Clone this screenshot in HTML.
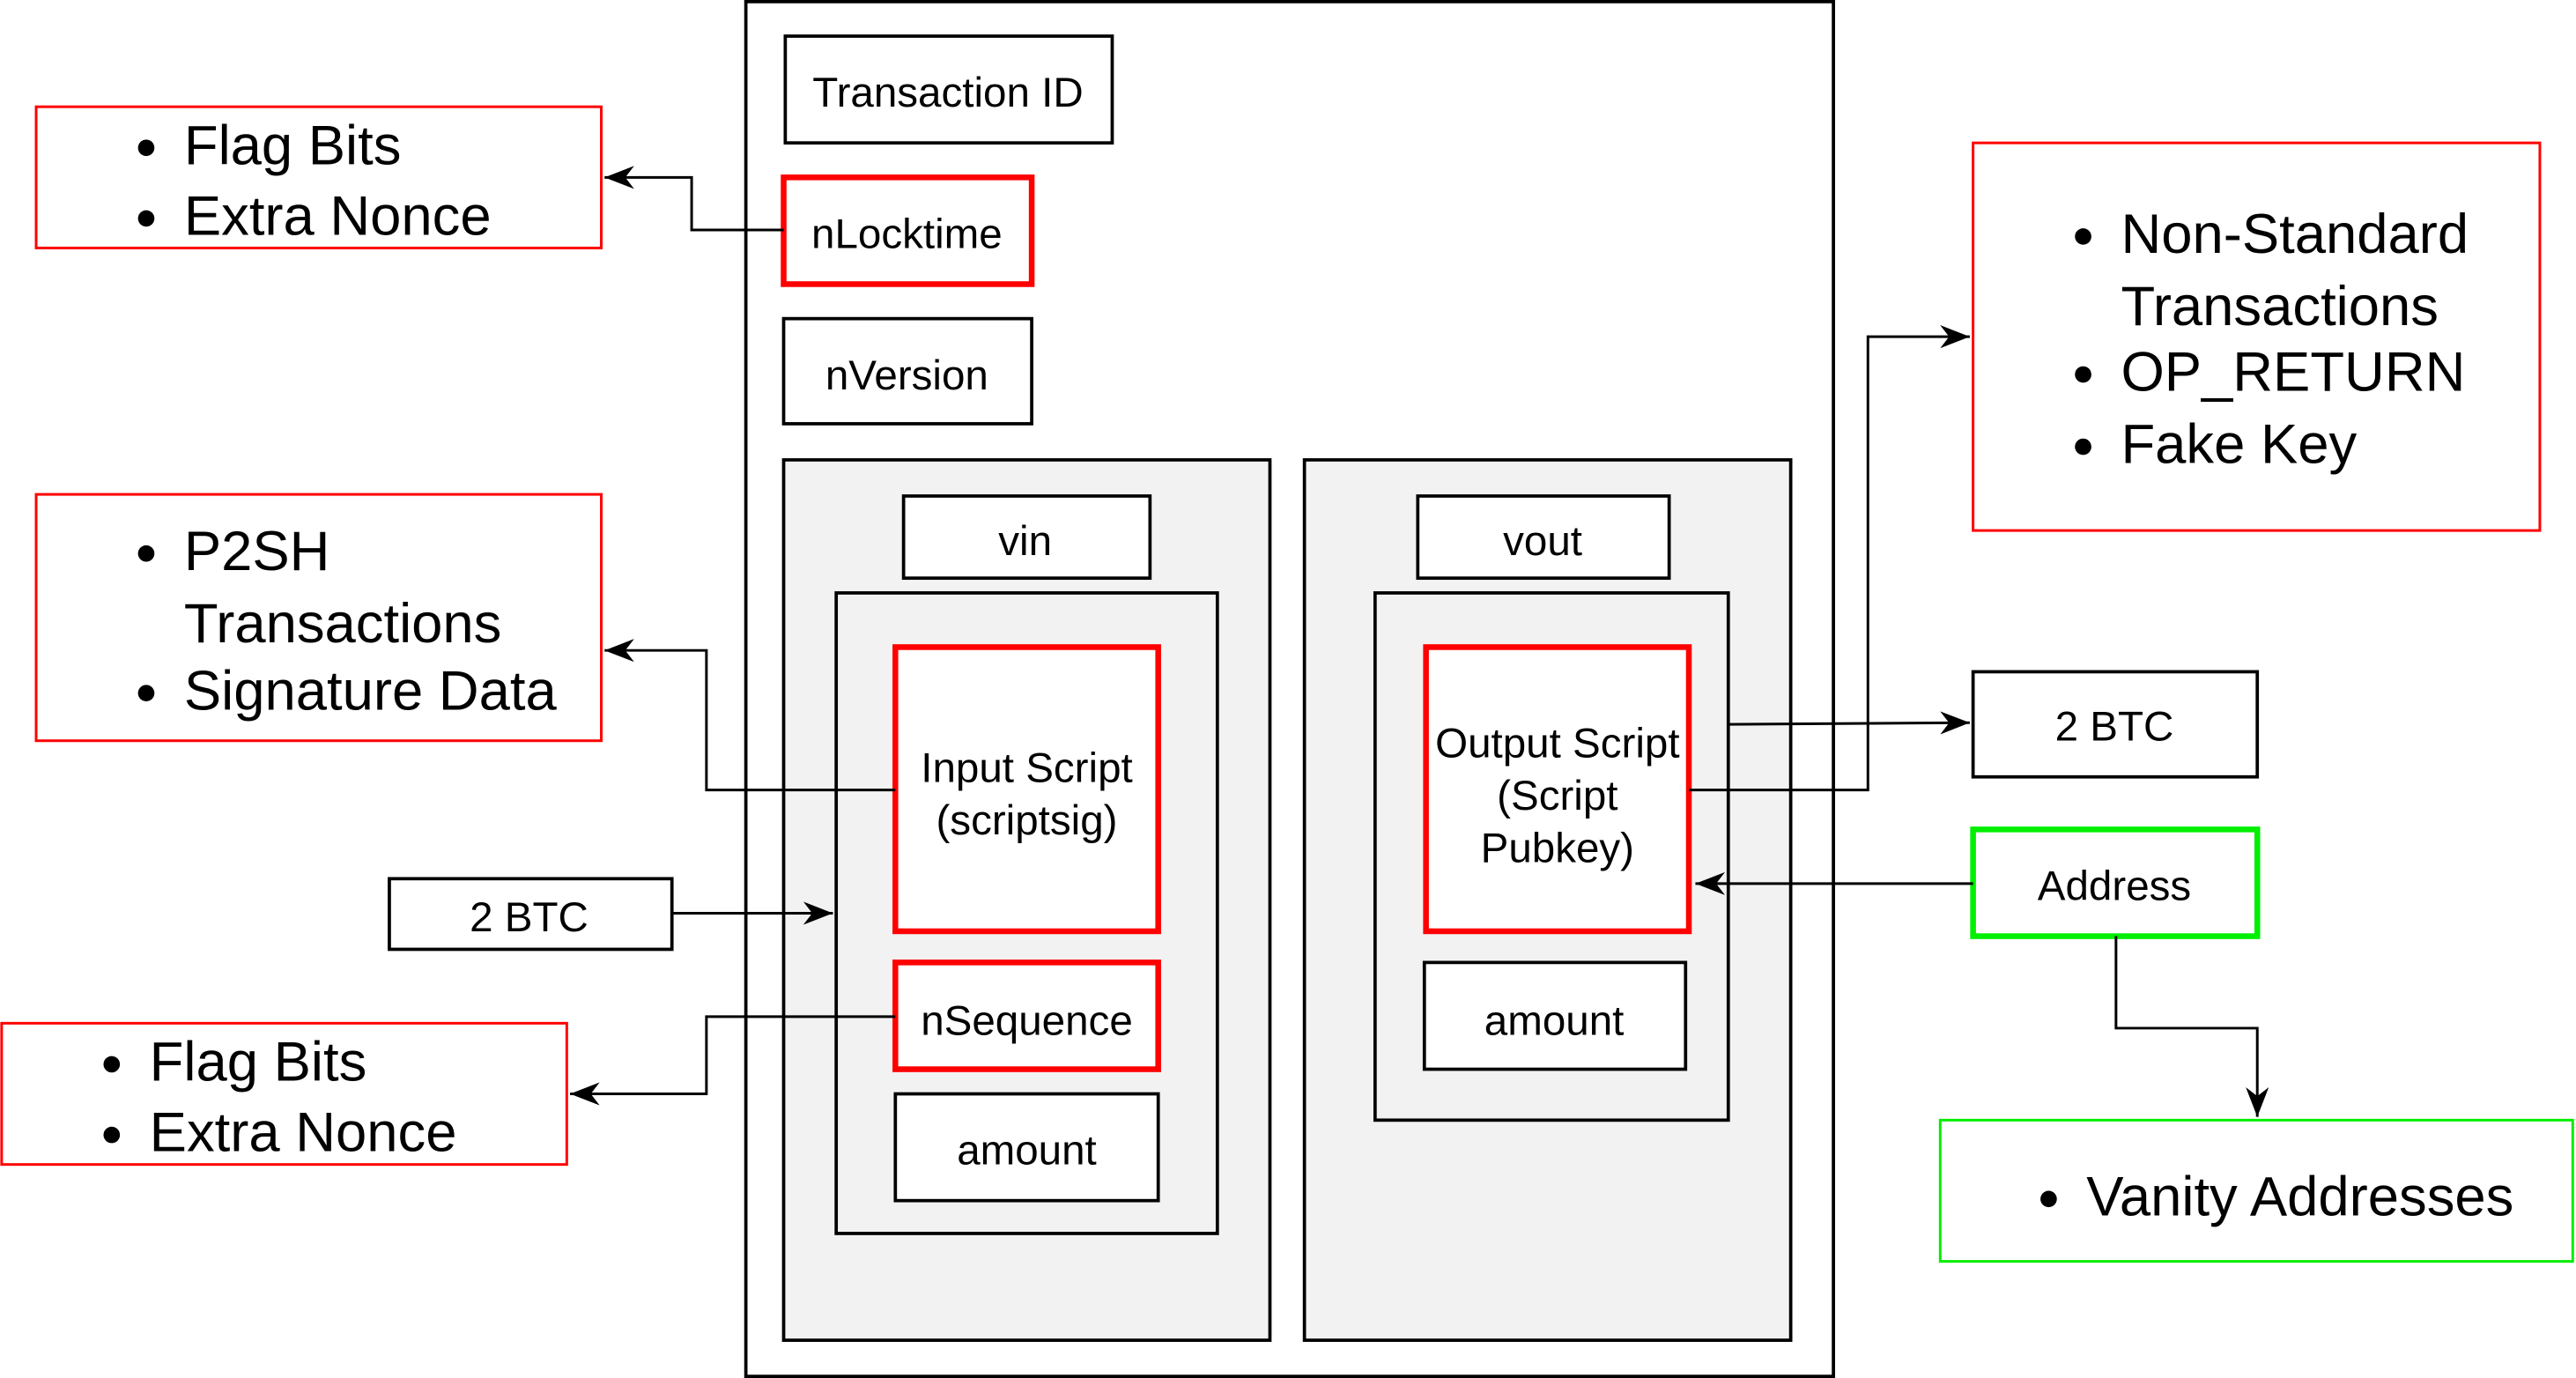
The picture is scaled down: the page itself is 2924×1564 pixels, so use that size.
<!DOCTYPE html>
<html><head><meta charset="utf-8"><style>html,body{margin:0;padding:0;background:#fff}svg{display:block}</style></head>
<body>
<svg width="2924" height="1564" viewBox="0 0 1568 839" preserveAspectRatio="none" xmlns="http://www.w3.org/2000/svg" font-family="Liberation Sans, sans-serif">
<defs>
<marker id="b" viewBox="0 0 10 10" markerWidth="18" markerHeight="14" refX="10" refY="5" orient="auto" markerUnits="userSpaceOnUse" preserveAspectRatio="none"><path d="M0,0 L10,5 L0,10 L3,5 z" fill="#000"/></marker></defs>
<g fill="#fff" stroke="#000" stroke-width="2">
<rect x="454" y="1" width="662" height="837"/>
<rect x="478" y="22" width="199" height="65"/>
<rect x="477" y="194" width="151" height="64"/>
<rect x="477" y="280" width="296" height="536" fill="#f2f2f2"/>
<rect x="794" y="280" width="296" height="536" fill="#f2f2f2"/>
<rect x="550" y="302" width="150" height="50"/>
<rect x="863" y="302" width="153" height="50"/>
<rect x="509" y="361" width="232" height="390" fill="#f2f2f2"/>
<rect x="837" y="361" width="215" height="321" fill="#f2f2f2"/>
<rect x="545" y="666" width="160" height="65"/>
<rect x="867" y="586" width="159" height="65"/>
<rect x="237" y="535" width="172" height="43"/>
<rect x="1201" y="409" width="173" height="64"/>
</g>
<g fill="#fff" stroke="#ff0000" stroke-width="3.5">
<rect x="477" y="108" width="151" height="65"/>
<rect x="545" y="394" width="160" height="173"/>
<rect x="545" y="586" width="160" height="65"/>
<rect x="868" y="394" width="160" height="173"/>
</g>
<g fill="#fff" stroke="#ff0000" stroke-width="1.6">
<rect x="22" y="65" width="344" height="86"/>
<rect x="22" y="301" width="344" height="150"/>
<rect x="1" y="623" width="344" height="86"/>
<rect x="1201" y="87" width="345" height="236"/>
</g>
<rect x="1201" y="505" width="173" height="65" fill="#fff" stroke="#00ee00" stroke-width="3.5"/>
<rect x="1181" y="682" width="385" height="86" fill="#fff" stroke="#00ee00" stroke-width="1.6"/>
<g fill="none" stroke="#000" stroke-width="1.6">
<path d="M477,140 H421 V108 H368" marker-end="url(#b)"/>
<path d="M545,481 H430 V396 H368" marker-end="url(#b)"/>
<path d="M409,556 H507" marker-end="url(#b)"/>
<path d="M545,619 H430 V666 H347" marker-end="url(#b)"/>
<path d="M1028,481 H1137 V205 H1199" marker-end="url(#b)"/>
<path d="M1052,441 L1199,440" marker-end="url(#b)"/>
<path d="M1201,538 H1032" marker-end="url(#b)"/>
<path d="M1288,570 V626 H1374 V680" marker-end="url(#b)"/>
</g>
<g font-size="25.5" text-anchor="middle" fill="#000">
<text x="577" y="65">Transaction ID</text>
<text x="552" y="151">nLocktime</text>
<text x="552" y="237">nVersion</text>
<text x="624" y="338">vin</text>
<text x="939" y="338">vout</text>
<text x="625" y="476">Input Script</text>
<text x="625" y="508">(scriptsig)</text>
<text x="625" y="630">nSequence</text>
<text x="625" y="709">amount</text>
<text x="948" y="461">Output Script</text>
<text x="948" y="493">(Script</text>
<text x="948" y="525">Pubkey)</text>
<text x="946" y="630">amount</text>
<text x="322" y="567">2 BTC</text>
<text x="1287" y="451">2 BTC</text>
<text x="1287" y="548">Address</text>
</g>
<g font-size="34" fill="#000">
<circle cx="89" cy="90" r="5"/><text x="112" y="100">Flag Bits</text>
<circle cx="89" cy="133" r="5"/><text x="112" y="143">Extra Nonce</text>
<circle cx="89" cy="337" r="5"/><text x="112" y="347">P2SH</text>
<text x="112" y="391">Transactions</text>
<circle cx="89" cy="422" r="5"/><text x="112" y="432">Signature Data</text>
<circle cx="68" cy="648" r="5"/><text x="91" y="658">Flag Bits</text>
<circle cx="68" cy="691" r="5"/><text x="91" y="701">Extra Nonce</text>
<circle cx="1268" cy="144" r="5"/><text x="1291" y="154">Non-Standard</text>
<text x="1291" y="198">Transactions</text>
<circle cx="1268" cy="228" r="5"/><text x="1291" y="238">OP_RETURN</text>
<circle cx="1268" cy="272" r="5"/><text x="1291" y="282">Fake Key</text>
<circle cx="1247" cy="730" r="5"/><text x="1270" y="740">Vanity Addresses</text>
</g>
</svg>
</body></html>
